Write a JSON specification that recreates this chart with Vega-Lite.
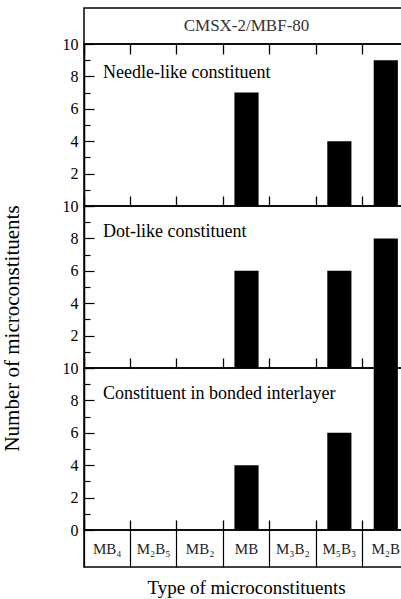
{
  "$schema": "https://vega.github.io/schema/vega-lite/v6.json",
  "padding": {"left": 0, "top": 7, "right": 0, "bottom": 0},
  "spacing": 0,
  "bounds": "flush",
  "datasets": {
    "counts": [
      {"panel": "Needle", "type": "MB", "count": 7},
      {"panel": "Needle", "type": "M₅B₃", "count": 4},
      {"panel": "Needle", "type": "M₂B", "count": 9},
      {"panel": "Dot", "type": "MB", "count": 6},
      {"panel": "Dot", "type": "M₅B₃", "count": 6},
      {"panel": "Dot", "type": "M₂B", "count": 8},
      {"panel": "Bonded", "type": "MB", "count": 4},
      {"panel": "Bonded", "type": "M₅B₃", "count": 6},
      {"panel": "Bonded", "type": "M₂B", "count": 10}
    ],
    "types": [
      {"type": "MB₄"}, {"type": "M₂B₅"}, {"type": "MB₂"}, {"type": "MB"},
      {"type": "M₃B₂"}, {"type": "M₅B₃"}, {"type": "M₂B"}
    ],
    "header": [{"label": "CMSX-2/MBF-80"}]
  },
  "config": {
    "font": "Liberation Serif",
    "view": {"stroke": "black", "strokeWidth": 1.5},
    "axis": {
      "domainColor": "black", "tickColor": "black", "labelColor": "black", "titleColor": "black",
      "labelFont": "Liberation Serif", "titleFont": "Liberation Serif",
      "labelFontSize": 16, "titleFontSize": 19, "titleFontWeight": "normal",
      "grid": false, "domainWidth": 1.5, "tickWidth": 1.2, "ticks": true
    },
    "title": {"font": "Liberation Serif", "fontWeight": "normal", "fontSize": 18, "color": "black"}
  },
  "vconcat": [
    {
      "width": 325, "height": 36,
      "data": {"name": "header"},
      "mark": {"type": "text", "fontSize": 17, "color": "#333333", "font": "Liberation Serif"},
      "encoding": {
        "x": {"field": "label", "type": "nominal", "scale": {"type": "band", "paddingInner": 0, "paddingOuter": 0}, "axis": null},
        "text": {"field": "label"}
      }
    },
    {
      "width": 325, "height": 162,
      "title": {"text": "Needle-like constituent", "anchor": "start", "frame": "group", "offset": -55, "dx": 19, "baseline": "middle"},
      "data": {"name": "counts"},
      "transform": [{"filter": "datum.panel === 'Needle'"}],
      "mark": {"type": "bar", "color": "black", "width": {"band": 0.52}},
      "encoding": {
        "x": {"field": "type", "type": "nominal",
          "scale": {"type": "band", "domain": ["MB₄","M₂B₅","MB₂","MB","M₃B₂","M₅B₃","M₂B"], "paddingInner": 0, "paddingOuter": 0},
          "axis": {"orient": "top", "labels": false, "ticks": true, "title": null, "domain": false, "bandPosition": 0, "tickSize": -10, "tickColor": "black", "tickWidth": 1.3}},
        "y": {"field": "count", "type": "quantitative",
          "scale": {"domain": [0, 10], "nice": false},
          "axis": {"values": [0,1,2,3,4,5,6,7,8,9,10], "title": null, "labelPadding": 16,
            "labelExpr": "datum.value % 2 === 0 && datum.value > 0 ? datum.label : ''",
            "tickSize": {"condition": {"test": "datum.value % 2", "value": -6}, "value": -10}}}
      }
    },
    {
      "width": 325, "height": 162,
      "title": {"text": "Dot-like constituent", "anchor": "start", "frame": "group", "offset": -55, "dx": 19, "baseline": "middle"},
      "data": {"name": "counts"},
      "transform": [{"filter": "datum.panel === 'Dot'"}],
      "mark": {"type": "bar", "color": "black", "width": {"band": 0.52}},
      "encoding": {
        "x": {"field": "type", "type": "nominal",
          "scale": {"type": "band", "domain": ["MB₄","M₂B₅","MB₂","MB","M₃B₂","M₅B₃","M₂B"], "paddingInner": 0, "paddingOuter": 0},
          "axis": {"orient": "top", "labels": false, "ticks": true, "title": null, "domain": false, "bandPosition": 0, "tickSize": 10, "tickColor": "black", "tickWidth": 1.3}},
        "y": {"field": "count", "type": "quantitative",
          "scale": {"domain": [0, 10], "nice": false},
          "axis": {"values": [0,1,2,3,4,5,6,7,8,9,10], "title": "Number of microconstituents", "titleFontSize": 21, "titleX": -62, "titleY": 122, "labelPadding": 16,
            "labelExpr": "datum.value % 2 === 0 && datum.value > 0 ? datum.label : ''",
            "tickSize": {"condition": {"test": "datum.value % 2", "value": -6}, "value": -10}}}
      }
    },
    {
      "width": 325, "height": 162,
      "title": {"text": "Constituent in bonded interlayer", "anchor": "start", "frame": "group", "offset": -55, "dx": 19, "baseline": "middle"},
      "data": {"name": "counts"},
      "transform": [{"filter": "datum.panel === 'Bonded'"}],
      "mark": {"type": "bar", "color": "black", "width": {"band": 0.52}},
      "encoding": {
        "x": {"field": "type", "type": "nominal",
          "scale": {"type": "band", "domain": ["MB₄","M₂B₅","MB₂","MB","M₃B₂","M₅B₃","M₂B"], "paddingInner": 0, "paddingOuter": 0},
          "axis": {"orient": "top", "labels": false, "ticks": true, "title": null, "domain": false, "bandPosition": 0, "tickSize": 10, "tickColor": "black", "tickWidth": 1.3}},
        "y": {"field": "count", "type": "quantitative",
          "scale": {"domain": [0, 10], "nice": false},
          "axis": {"values": [0,1,2,3,4,5,6,7,8,9,10], "title": null, "labelPadding": 16,
            "labelExpr": "datum.value % 2 === 0 ? datum.label : ''",
            "tickSize": {"condition": {"test": "datum.value % 2", "value": -6}, "value": -10}}}
      }
    },
    {
      "width": 325, "height": 37,
      "title": {"text": "Type of microconstituents", "orient": "bottom", "anchor": "middle", "frame": "group", "offset": 12, "fontSize": 19, "baseline": "top"},
      "data": {"name": "types"},
      "mark": {"type": "text", "fontSize": 15, "baseline": "middle", "font": "Liberation Serif", "color": "#222222"},
      "encoding": {
        "x": {"field": "type", "type": "nominal",
          "scale": {"type": "band", "domain": ["MB₄","M₂B₅","MB₂","MB","M₃B₂","M₅B₃","M₂B"], "paddingInner": 0, "paddingOuter": 0},
          "axis": {"orient": "top", "labels": false, "ticks": true, "domain": false, "grid": true, "gridColor": "black", "gridWidth": 1.2, "bandPosition": 0, "tickSize": 10, "tickColor": "black", "tickWidth": 1.3, "title": null}},
        "text": {"field": "type"}
      }
    }
  ]
}
